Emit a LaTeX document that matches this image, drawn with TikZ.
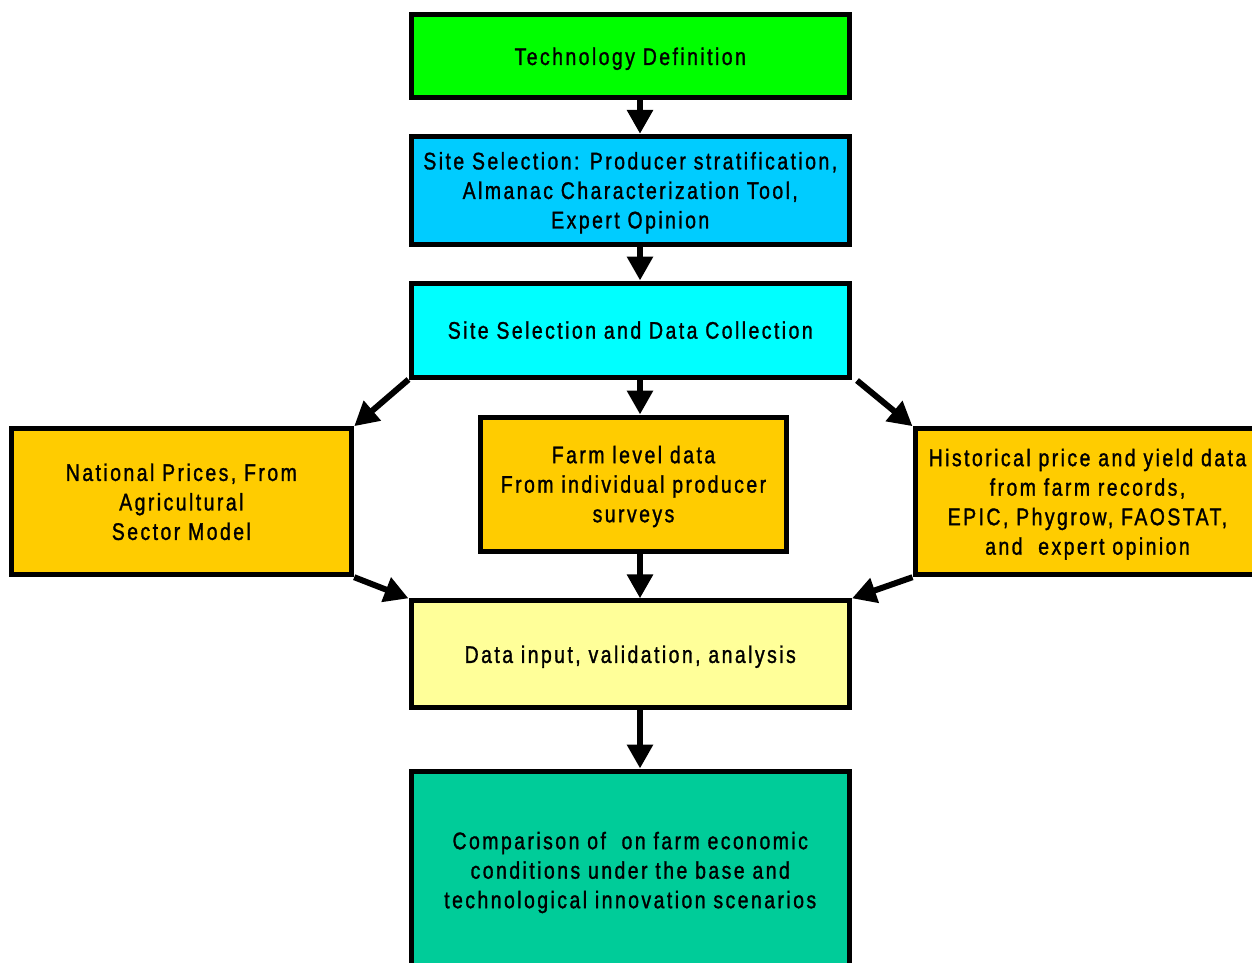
\documentclass[tikz,border=0pt]{standalone}
\usepackage{fontspec}
\setmainfont{Liberation Sans}[FakeStretch=0.81,LetterSpace=10.2,FakeBold=1.2]
\usetikzlibrary{arrows.meta}
\definecolor{techgreen}{HTML}{00FF00}
\definecolor{selblue}{HTML}{00CCFF}
\definecolor{datacyan}{HTML}{00FFFF}
\definecolor{srcorange}{HTML}{FFCC00}
\definecolor{inputyellow}{HTML}{FFFF99}
\definecolor{comparegreen}{HTML}{00CC99}

\begin{document}
\begin{tikzpicture}[x=1pt,y=-1pt,
  box/.style={draw=black,line width=5pt,align=center,inner sep=0pt,text depth=0pt,
    font=\fontsize{24}{29.5}\selectfont},
  wide/.style={box,minimum width=438.5pt},
  side/.style={box,fill=srcorange,minimum width=340.7pt,minimum height=146pt},
  arr/.style={-{Triangle[width=25pt,length=24pt]},line width=6pt}]
          \useasboundingbox (0,0) rectangle (1252,962);
          \clip (0,0) rectangle (1252,962);
          \coordinate (arrx) at (640,0);
          \node[wide,fill=techgreen,minimum height=83pt] (tech) at (630.25,56.3) {Technology Definition};
          \node[wide,fill=selblue,minimum height=107.7pt] (sel) at (630.25,190.2)
            {Site Selection: Producer stratification,\\Almanac Characterization Tool,\\Expert Opinion};
          \node[wide,fill=datacyan,minimum height=94pt] (sdc) at (630.25,330) {Site Selection and Data Collection};
          \node[side] (natl) at (181.35,501.7) {National Prices, From\\Agricultural\\Sector Model};
          \node[box,fill=srcorange,minimum width=306.4pt,minimum height=134pt] (farm) at (633.5,484)
            {Farm level data\\From individual producer\\surveys};
          \node[side,minimum width=345pt] (hist) at (1087.5,501.7)
            {Historical price and yield data\\from farm records,\\EPIC, Phygrow, FAOSTAT,\\and~ expert opinion};
          \node[wide,fill=inputyellow,minimum height=106.7pt] (dat) at (630.25,654.2) {Data input, validation, analysis};
          \node[wide,fill=comparegreen,minimum height=198pt] (comp) at (630.25,870)
            {Comparison of~ on farm economic\\conditions under the base and\\technological innovation scenarios};
          \draw[arr] (tech.south -| arrx) -- (sel.north -| arrx);
          \draw[arr] (sel.south -| arrx) -- (sdc.north -| arrx);
          \draw[arr] (sdc.south -| arrx) -- (farm.north -| arrx);
          \draw[arr] (sdc.south west) -- (natl.north east);
          \draw[arr] ([shift={(5,1)}]sdc.south east) -- (hist.north west);
          \draw[arr] (natl.south east) -- (dat.north west);
          \draw[arr] (farm.south -| arrx) -- (dat.north -| arrx);
          \draw[arr] (hist.south west) -- (dat.north east);
          \draw[arr] (dat.south -| arrx) -- (comp.north -| arrx);
        \end{tikzpicture}
\end{document}
